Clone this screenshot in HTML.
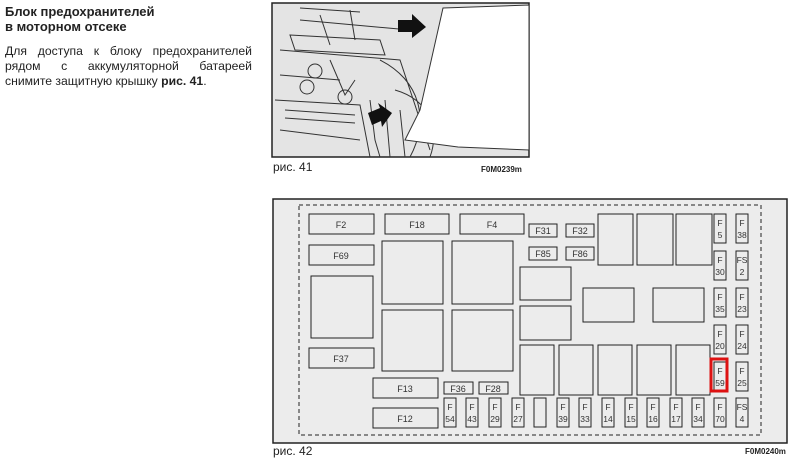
<!DOCTYPE html>
<html><head><meta charset="utf-8"><style>
body{margin:0;width:792px;height:461px;background:#fff;position:relative;overflow:hidden;font-family:"Liberation Sans",sans-serif}
.t{position:absolute;left:5px;color:#222}
.h{font-weight:bold;font-size:13px;line-height:15px;top:4px}
.b{font-size:12.2px;line-height:15px;top:44px;width:247px}
.j{display:block;text-align:justify;text-align-last:justify;white-space:nowrap}
.cap{position:absolute;font-size:12px;color:#222}
.code{position:absolute;font-size:8px;font-weight:bold;color:#222}
</style></head><body>
<div class="t h">Блок предохранителей<br>в моторном отсеке</div>
<div class="t b"><span class="j">Для доступа к блоку предохранителей</span><span class="j">рядом с аккумуляторной батареей</span><span style="display:block">снимите защитную крышку <b>рис. 41</b>.</span></div>

<svg style="position:absolute;left:0;top:0" width="792" height="461">
<rect x="272" y="3" width="257" height="154" fill="#e4e4e4" stroke="#222" stroke-width="1.5"/>
<g fill="none" stroke="#333" stroke-width="1">
<path d="M280 50 L400 60 L430 150 M275 100 L360 105 L370 157 M300 20 L410 30 M330 60 L345 95 L355 80 M280 130 L360 140 M380 60 C420 80 430 120 410 157 M395 90 C430 100 440 130 430 157 M280 75 L340 80"/>
<path d="M290 35 L380 40 L385 55 L295 50 Z M285 110 L355 115 M285 118 L355 123 M300 8 L360 12 M320 15 L330 45 M350 10 L355 40"/>
<circle cx="315" cy="71" r="7"/><circle cx="307" cy="87" r="7"/><circle cx="345" cy="97" r="7"/>
<path d="M370 100 L375 140 L380 157 M385 100 L390 157 M400 110 L405 157"/>
</g>
<polygon points="443,8 529,5 529,150 458,147 405,140 420,110" fill="#fff" stroke="#333"/>
<polygon points="398,20 412,20 412,14 426,27 412,38 412,32 398,32" fill="#111"/>
<polygon points="368,113 380,108 378,103 392,113 382,127 381,121 372,125" fill="#111"/>
<rect x="273" y="199" width="514" height="244" fill="#ececec" stroke="#222" stroke-width="1.5"/>
<rect x="299" y="205" width="462" height="230" fill="none" stroke="#222" stroke-dasharray="4,3"/>
<g fill="#ececec" stroke="#222" stroke-width="1">
<rect x="309" y="214" width="65" height="20"/><rect x="385" y="214" width="64" height="20"/><rect x="460" y="214" width="64" height="20"/>
<rect x="309" y="245" width="65" height="20"/><rect x="311" y="276" width="62" height="62"/><rect x="309" y="348" width="65" height="20"/>
<rect x="382" y="241" width="61" height="63"/><rect x="452" y="241" width="61" height="63"/>
<rect x="382" y="310" width="61" height="61"/><rect x="452" y="310" width="61" height="61"/>
<rect x="373" y="378" width="65" height="20"/><rect x="373" y="408" width="65" height="20"/>
<rect x="444" y="382" width="29" height="12"/><rect x="479" y="382" width="29" height="12"/>
<rect x="529" y="224" width="28" height="13"/><rect x="566" y="224" width="28" height="13"/>
<rect x="529" y="247" width="28" height="13"/><rect x="566" y="247" width="28" height="13"/>
<rect x="598" y="214" width="35" height="51"/><rect x="637" y="214" width="36" height="51"/><rect x="676" y="214" width="36" height="51"/>
<rect x="520" y="267" width="51" height="33"/><rect x="520" y="306" width="51" height="34"/>
<rect x="583" y="288" width="51" height="34"/><rect x="653" y="288" width="51" height="34"/>
<rect x="520" y="345" width="34" height="50"/><rect x="559" y="345" width="34" height="50"/><rect x="598" y="345" width="34" height="50"/><rect x="637" y="345" width="34" height="50"/><rect x="676" y="345" width="34" height="50"/>
<rect x="444" y="398" width="12" height="29"/><rect x="466" y="398" width="12" height="29"/><rect x="489" y="398" width="12" height="29"/><rect x="512" y="398" width="12" height="29"/><rect x="534" y="398" width="12" height="29"/>
<rect x="557" y="398" width="12" height="29"/><rect x="579" y="398" width="12" height="29"/><rect x="602" y="398" width="12" height="29"/><rect x="625" y="398" width="12" height="29"/><rect x="647" y="398" width="12" height="29"/><rect x="670" y="398" width="12" height="29"/><rect x="692" y="398" width="12" height="29"/>
<rect x="714" y="398" width="12" height="29"/><rect x="736" y="398" width="12" height="29"/>
<rect x="714" y="214" width="12" height="29"/><rect x="736" y="214" width="12" height="29"/>
<rect x="714" y="251" width="12" height="29"/><rect x="736" y="251" width="12" height="29"/>
<rect x="714" y="288" width="12" height="29"/><rect x="736" y="288" width="12" height="29"/>
<rect x="714" y="325" width="12" height="29"/><rect x="736" y="325" width="12" height="29"/>
<rect x="714" y="362" width="12" height="29"/><rect x="736" y="362" width="12" height="29"/>
</g>
<rect x="711" y="359" width="16" height="32" fill="none" stroke="#d11" stroke-width="3"/>
<g font-family="Liberation Sans,sans-serif" font-size="9" fill="#333" text-anchor="middle">
<text x="341" y="228">F2</text><text x="417" y="228">F18</text><text x="492" y="228">F4</text>
<text x="341" y="259">F69</text><text x="341" y="362">F37</text>
<text x="405" y="392">F13</text><text x="405" y="422">F12</text>
<text x="458" y="392">F36</text><text x="493" y="392">F28</text>
<text x="543" y="234">F31</text><text x="580" y="234">F32</text><text x="543" y="257">F85</text><text x="580" y="257">F86</text>
</g>
<g font-family="Liberation Sans,sans-serif" font-size="8.5" fill="#333" text-anchor="middle">
<text x="450" y="410">F</text><text x="450" y="422">54</text>
<text x="472" y="410">F</text><text x="472" y="422">43</text>
<text x="495" y="410">F</text><text x="495" y="422">29</text>
<text x="518" y="410">F</text><text x="518" y="422">27</text>
<text x="563" y="410">F</text><text x="563" y="422">39</text>
<text x="585" y="410">F</text><text x="585" y="422">33</text>
<text x="608" y="410">F</text><text x="608" y="422">14</text>
<text x="631" y="410">F</text><text x="631" y="422">15</text>
<text x="653" y="410">F</text><text x="653" y="422">16</text>
<text x="676" y="410">F</text><text x="676" y="422">17</text>
<text x="698" y="410">F</text><text x="698" y="422">34</text>
<text x="720" y="410">F</text><text x="720" y="422">70</text>
<text x="742" y="410">FS</text><text x="742" y="422">4</text>
<text x="720" y="226">F</text><text x="720" y="238">5</text>
<text x="742" y="226">F</text><text x="742" y="238">38</text>
<text x="720" y="263">F</text><text x="720" y="275">30</text>
<text x="742" y="263">FS</text><text x="742" y="275">2</text>
<text x="720" y="300">F</text><text x="720" y="312">35</text>
<text x="742" y="300">F</text><text x="742" y="312">23</text>
<text x="720" y="337">F</text><text x="720" y="349">20</text>
<text x="742" y="337">F</text><text x="742" y="349">24</text>
<text x="720" y="374">F</text><text x="720" y="386">59</text>
<text x="742" y="374">F</text><text x="742" y="386">25</text>
</g>
</svg>
<div class="cap" style="left:273px;top:160px">рис. 41</div>
<div class="code" style="left:481px;top:165px">F0M0239m</div>
<div class="cap" style="left:273px;top:444px">рис. 42</div>
<div class="code" style="left:745px;top:447px">F0M0240m</div>
</body></html>
